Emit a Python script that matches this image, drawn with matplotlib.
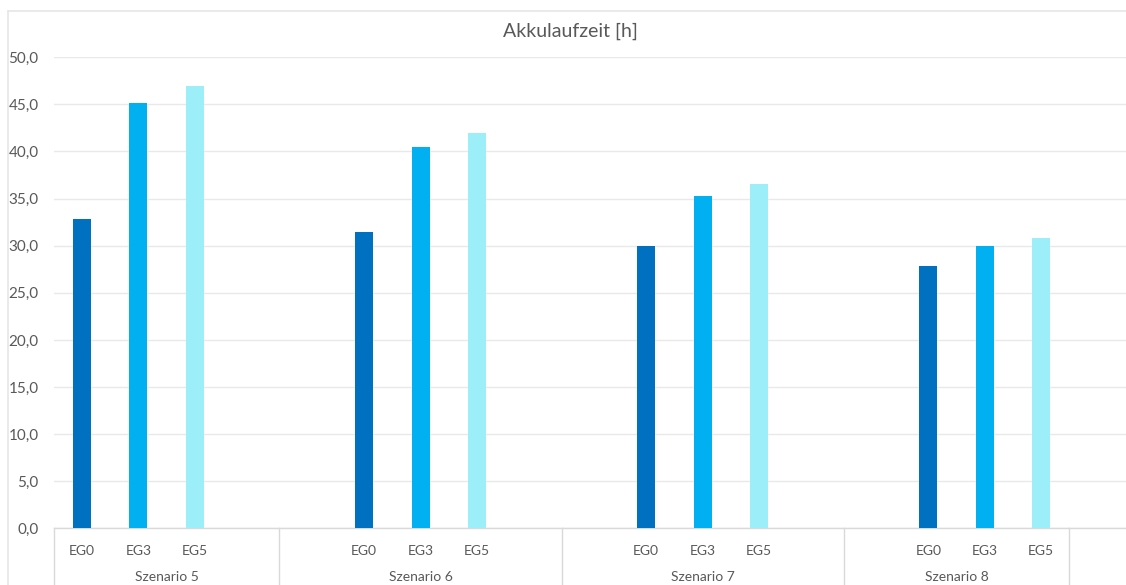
import matplotlib
matplotlib.use("Agg")
import matplotlib.pyplot as plt
from matplotlib.lines import Line2D
from matplotlib.ticker import FuncFormatter, MultipleLocator

# --- data -----------------------------------------------------------------
scenarios = ["Szenario 5", "Szenario 6", "Szenario 7", "Szenario 8"]
series_names = ["EG0", "EG3", "EG5"]
eg0 = [32.8, 31.5, 30.0, 27.8]
eg3 = [45.2, 40.5, 35.3, 30.0]
eg5 = [47.0, 42.0, 36.5, 30.8]
title = "Akkulaufzeit [h]"

# --- style ----------------------------------------------------------------
plt.rcParams["font.family"] = ["Lato", "DejaVu Sans"]
text_color = "#595959"
grid_color = "#e9e9e9"
axis_color = "#d9d9d9"
colors = ["#0070C0", "#00B0F0", "#9CEFF9"]

W, H = 1126, 585
fig = plt.figure(figsize=(W / 100, H / 100), dpi=100)
fig.patch.set_facecolor("white")

# chart-area frame (top and left edges visible)
fig.add_artist(Line2D([8 / W, 1], [1 - 10.5 / H] * 2, color="#e6e6e6", lw=1.2,
                      transform=fig.transFigure))
fig.add_artist(Line2D([8 / W] * 2, [0, 1 - 10.5 / H], color="#e6e6e6", lw=1.2,
                      transform=fig.transFigure))

left_px, right_px, top_px, bottom_px = 53.8, 1125.8, 57.3, 528.3
ax = fig.add_axes([left_px / W, 1 - bottom_px / H,
                   (right_px - left_px) / W, (bottom_px - top_px) / H])

# category slots: each scenario block holds the three bars plus spacer slots
group_start = [0, 5, 10, 15]
n_slots = 19
bar_w = 0.32
all_series = [eg0, eg3, eg5]
for si, vals in enumerate(all_series):
    xs = [g + si for g in group_start]
    ax.bar(xs, vals, width=bar_w, color=colors[si], zorder=3, linewidth=0)

ax.set_xlim(-0.5, n_slots - 0.5)
ax.set_ylim(0, 50)
ax.yaxis.set_major_locator(MultipleLocator(5))
ax.yaxis.set_major_formatter(FuncFormatter(lambda v, p: f"{v:.1f}".replace(".", ",")))
ax.grid(axis="y", color=grid_color, lw=1.0, zorder=0)
ax.set_axisbelow(True)
for s in ["top", "right", "left"]:
    ax.spines[s].set_visible(False)
ax.spines["bottom"].set_color(axis_color)
ax.spines["bottom"].set_linewidth(1.0)
ax.tick_params(axis="y", length=0, labelsize=11, labelcolor=text_color, pad=11)

# first level: series labels under each bar
tick_pos, tick_lab = [], []
for g in group_start:
    for si, name in enumerate(series_names):
        tick_pos.append(g + si)
        tick_lab.append(name)
ax.set_xticks(tick_pos)
ax.set_xticklabels(tick_lab)
ax.tick_params(axis="x", length=0, labelsize=10, labelcolor=text_color, pad=12)

# second level: scenario labels and separators
trans = ax.get_xaxis_transform()
seps = [-0.5, 3.5, 8.5, 13.5, 17.5]
for x in seps:
    ax.add_line(Line2D([x, x], [0, -0.15], transform=trans, color=axis_color,
                       lw=1.0, clip_on=False))
for i, name in enumerate(scenarios):
    xc = (seps[i] + seps[i + 1]) / 2
    ax.text(xc, -(577 - bottom_px) / (bottom_px - top_px), name, transform=trans,
            ha="center", va="center", fontsize=10, color=text_color)

fig.text(570 / W, 1 - 31 / H, title, ha="center", va="center",
         fontsize=14, color=text_color)

fig.savefig("out.png", dpi=100, facecolor="white")
